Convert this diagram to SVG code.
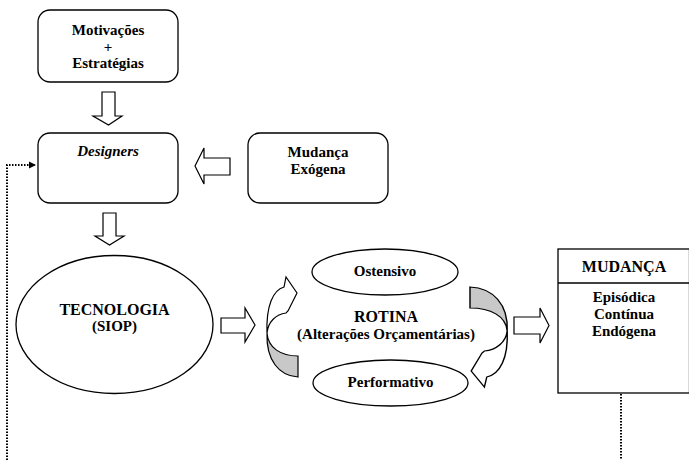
<svg xmlns="http://www.w3.org/2000/svg" width="689" height="460" viewBox="0 0 689 460">
<defs>
<style>
.box{fill:#fff;stroke:#000;stroke-width:1.3}
.blk{fill:#fff;stroke:#000;stroke-width:1.2}
.t{font-family:'Liberation Serif','DejaVu Serif',serif;font-weight:bold;font-size:15px;text-anchor:middle;fill:#000}
.big{font-size:16px}
.dot{fill:none;stroke:#000;stroke-width:2;stroke-dasharray:1.5 1.5}
.gray{fill:#c8c8c8;stroke:#000;stroke-width:1.2}
</style>
<marker id="ah" markerWidth="8" markerHeight="8" refX="7" refY="4" orient="auto" markerUnits="userSpaceOnUse">
<path d="M0,0.5 L7,4 L0,7.5 Z" fill="#000"/>
</marker>
<g id="curved">
<path class="gray" d="M267,333 C268,348 281,356 298,356 L298,377 C279,376 266,360 267,333 Z"/>
<path class="blk" d="M267,333 C266,306 273,290 284,287 L286,277 L297,293 L288,311 L286,313 C276,314 268,322 267,333 Z"/>
</g>
</defs>

<g id="motivacoes">
<rect class="box" x="38" y="10" width="140" height="72" rx="12"/>
<text class="t" x="108" y="35">Motivações</text>
<text class="t" x="108" y="52">+</text>
<text class="t" x="108" y="68">Estratégias</text>
</g>

<g id="designers">
<rect class="box" x="38" y="133" width="140" height="70" rx="12"/>
<text class="t" x="108" y="156" font-style="italic">Designers</text>
</g>

<g id="mudanca-exogena">
<rect class="box" x="248" y="133" width="140" height="70" rx="12"/>
<text class="t" x="318" y="157">Mudança</text>
<text class="t" x="318" y="174">Exógena</text>
</g>

<g id="tecnologia">
<ellipse class="box" cx="114.5" cy="324.5" rx="98.5" ry="69"/>
<text class="t big" x="114.5" y="315">TECNOLOGIA</text>
<text class="t" x="114.5" y="331">(SIOP)</text>
</g>

<g id="rotina">
<text class="t big" x="386" y="322">ROTINA</text>
<text class="t" x="386" y="339">(Alterações Orçamentárias)</text>
</g>

<g id="ostensivo">
<ellipse class="box" cx="385" cy="272" rx="73" ry="23"/>
<text class="t" x="385" y="276">Ostensivo</text>
</g>

<g id="performativo">
<ellipse class="box" cx="390.5" cy="383" rx="77.5" ry="23"/>
<text class="t" x="390.5" y="387">Performativo</text>
</g>

<g id="mudanca">
<rect class="box" x="558" y="249" width="131.5" height="144"/>
<line x1="558" y1="283" x2="689" y2="283" stroke="#000" stroke-width="1.3"/>
<text class="t big" x="624" y="272">MUDANÇA</text>
<text class="t" x="624" y="302">Episódica</text>
<text class="t" x="624" y="319">Contínua</text>
<text class="t" x="624" y="336">Endógena</text>
</g>

<g id="connectors">
<path class="blk" d="M102,92 L115,92 L115,116 L122,116 L108.5,125 L93,116 L102,116 Z"/>
<path class="blk" d="M103,213 L116,213 L116,236 L124,236 L109.5,245 L95,236 L103,236 Z"/>
<path class="blk" d="M230,158 L230,175 L204,175 L204,184 L195,166 L204,148 L204,158 Z"/>
<path class="blk" d="M221,318 L245,318 L245,308 L255,325 L245,342 L245,333 L221,333 Z"/>
<path class="blk" d="M514,317 L540,317 L540,308 L549,325.5 L540,343 L540,334 L514,334 Z"/>
<use href="#curved"/>
<use href="#curved" transform="matrix(-1.2,0,0,-1,827.6,664)"/>
<path class="dot" d="M7,460 L7,165 L36,165" marker-end="url(#ah)"/>
<line class="dot" x1="621" y1="394" x2="621" y2="460"/>
</g>
</svg>
